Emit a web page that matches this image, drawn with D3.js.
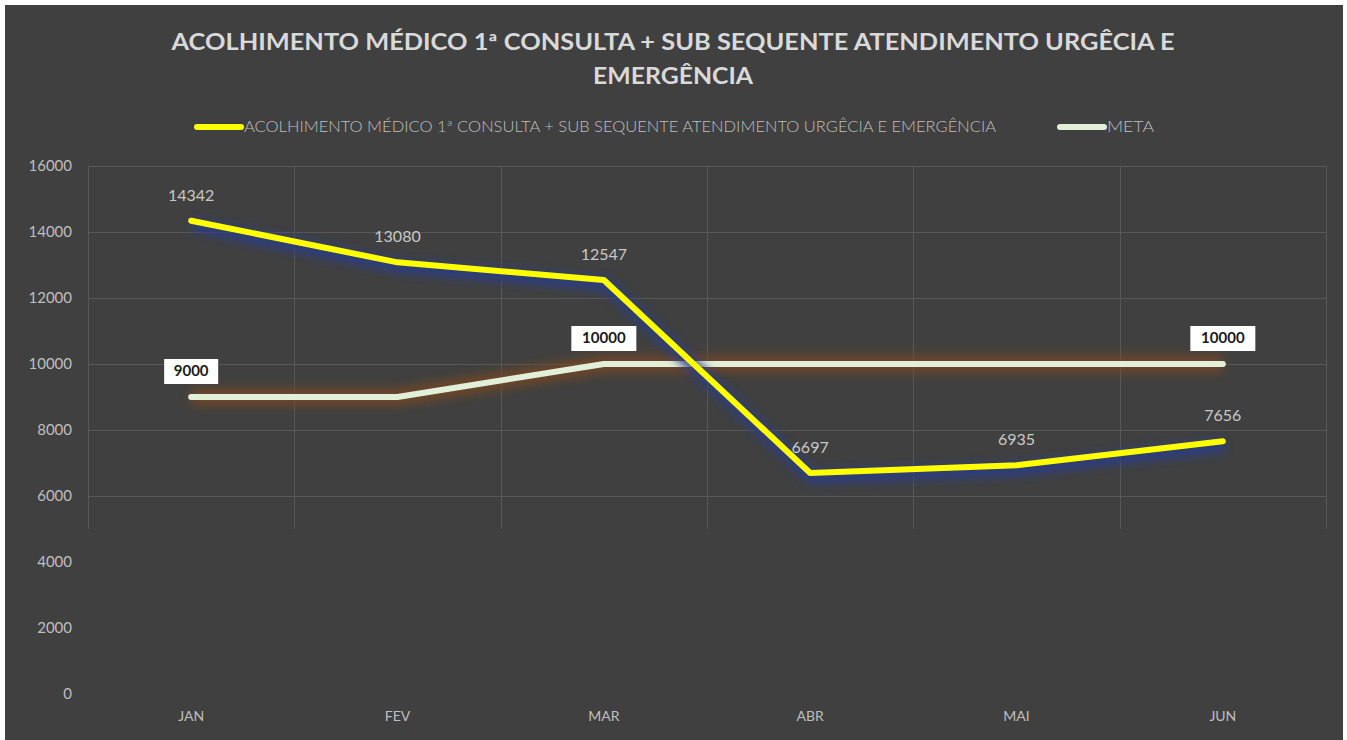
<!DOCTYPE html>
<html>
<head>
<meta charset="utf-8">
<script src="https://cdn.jsdelivr.net/npm/d3@7"></script>
<style>
  html, body { margin: 0; padding: 0; background: #ffffff; }
  svg { display: block; }
</style>
</head>
<body>
<svg id="chart" width="1347" height="740"></svg>
<script>
// chart data
const months = ['JAN', 'FEV', 'MAR', 'ABR', 'MAI', 'JUN'];
const atendimentos = [14342, 13080, 12547, 6697, 6935, 7656];
const meta = [9000, 9000, 10000, 10000, 10000, 10000];
const metaLabelMonths = ['JAN', 'MAR', 'JUN'];
const yTicks = [0, 2000, 4000, 6000, 8000, 10000, 12000, 14000, 16000];
const gridTicks = [6000, 8000, 10000, 12000, 14000, 16000];

const titleLines = [
  'ACOLHIMENTO MÉDICO 1ª CONSULTA + SUB SEQUENTE ATENDIMENTO URGÊCIA E',
  'EMERGÊNCIA'
];
const seriesNames = [
  'ACOLHIMENTO MÉDICO 1ª CONSULTA + SUB SEQUENTE ATENDIMENTO URGÊCIA E EMERGÊNCIA',
  'META'
];

const svg = d3.select('#chart');
const font = 'Lato, "Open Sans", sans-serif';

// background panel
svg.append('rect')
  .attr('x', 5).attr('y', 5)
  .attr('width', 1338).attr('height', 735)
  .attr('fill', '#404040');

const defs = svg.append('defs');

const blueGlow = defs.append('filter').attr('id', 'blueGlow')
  .attr('x', '-10%').attr('y', '-30%').attr('width', '120%').attr('height', '160%');
blueGlow.append('feGaussianBlur').attr('stdDeviation', 4);

const warmGlow = defs.append('filter').attr('id', 'warmGlow')
  .attr('x', '-10%').attr('y', '-50%').attr('width', '120%').attr('height', '200%');
warmGlow.append('feGaussianBlur').attr('stdDeviation', 5);

// scales
const x = d3.scaleBand().domain(months).range([88, 1326]);
const cx = (m) => x(m) + x.bandwidth() / 2;
const y = d3.scaleLinear().domain([0, 16000]).range([694, 166]);

// gridlines
const grid = svg.append('g').attr('stroke', '#585858').attr('stroke-width', 1);
grid.selectAll('line.h')
  .data(gridTicks)
  .enter()
  .append('line')
  .attr('x1', 88).attr('x2', 1326)
  .attr('y1', (d) => y(d) + 0.5).attr('y2', (d) => y(d) + 0.5);
grid.selectAll('line.v')
  .data(months.concat(['end']))
  .enter()
  .append('line')
  .attr('x1', (d, i) => Math.round(88 + i * x.bandwidth()) + 0.5)
  .attr('x2', (d, i) => Math.round(88 + i * x.bandwidth()) + 0.5)
  .attr('y1', y(16000)).attr('y2', y(5000));

// y axis labels
const yAxis = d3.axisLeft(y).tickValues(yTicks).tickFormat(d3.format('d')).tickSize(0).tickPadding(0);
const yg = svg.append('g').attr('transform', 'translate(72,0)').call(yAxis);
yg.select('.domain').remove();
yg.selectAll('text')
  .attr('fill', '#bfbfbf')
  .style('font-family', font)
  .style('font-size', '15px');

// x axis labels
const xAxis = d3.axisBottom(x).tickSize(0).tickPadding(0);
const xg = svg.append('g').attr('transform', 'translate(0,711)').call(xAxis);
xg.select('.domain').remove();
xg.selectAll('text')
  .attr('fill', '#bfbfbf')
  .style('font-family', font)
  .style('font-size', '14px');

// title
svg.append('g')
  .selectAll('text')
  .data(titleLines)
  .enter()
  .append('text')
  .attr('x', 673)
  .attr('y', (d, i) => 50 + i * 34)
  .attr('text-anchor', 'middle')
  .attr('fill', '#d9d9d9')
  .style('font-family', font)
  .style('font-weight', 'bold')
  .style('font-size', '22px')
  .attr('textLength', (d, i) => (i === 0 ? 1003 : 160))
  .attr('lengthAdjust', 'spacingAndGlyphs')
  .text((d) => d);

// legend
const legend = [
  { name: seriesNames[0], color: '#ffff00', x0: 197, width: 752 },
  { name: seriesNames[1], color: '#e2f0d9', x0: 1060, width: 47 }
];
const lg = svg.append('g').selectAll('g').data(legend).enter().append('g');
lg.append('line')
  .attr('x1', (d) => d.x0).attr('x2', (d) => d.x0 + 44)
  .attr('y1', 127).attr('y2', 127)
  .attr('stroke', (d) => d.color)
  .attr('stroke-width', 6)
  .attr('stroke-linecap', 'round');
lg.append('text')
  .attr('x', (d) => d.x0 + 47)
  .attr('y', 132)
  .attr('fill', '#bfbfbf')
  .style('font-family', font)
  .style('font-weight', '300')
  .style('font-size', '15px')
  .attr('textLength', (d) => d.width)
  .attr('lengthAdjust', 'spacingAndGlyphs')
  .text((d) => d.name);

// lines
const line = d3.line()
  .x((d, i) => cx(months[i]))
  .y((d) => y(d));

// meta glow + line
svg.append('path')
  .attr('d', line(meta))
  .attr('fill', 'none')
  .attr('stroke', '#7a4520')
  .attr('stroke-opacity', 0.75)
  .attr('stroke-width', 18)
  .attr('stroke-linejoin', 'round')
  .attr('filter', 'url(#warmGlow)');
svg.append('path')
  .attr('d', line(meta))
  .attr('fill', 'none')
  .attr('stroke', '#e2f0d9')
  .attr('stroke-width', 6)
  .attr('stroke-linecap', 'round')
  .attr('stroke-linejoin', 'round');

// atendimentos glow + line
svg.append('path')
  .attr('d', line(atendimentos))
  .attr('transform', 'translate(2,4)')
  .attr('fill', 'none')
  .attr('stroke', '#283c86')
  .attr('stroke-opacity', 0.85)
  .attr('stroke-width', 14)
  .attr('stroke-linejoin', 'round')
  .attr('filter', 'url(#blueGlow)');
svg.append('path')
  .attr('d', line(atendimentos))
  .attr('fill', 'none')
  .attr('stroke', '#ffff00')
  .attr('stroke-width', 6)
  .attr('stroke-linecap', 'round')
  .attr('stroke-linejoin', 'round');

// data labels (atendimentos)
svg.append('g')
  .selectAll('text')
  .data(atendimentos)
  .enter()
  .append('text')
  .attr('x', (d, i) => cx(months[i]))
  .attr('y', (d) => y(d) - 20)
  .attr('text-anchor', 'middle')
  .attr('fill', '#c8c8c8')
  .style('font-family', font)
  .style('font-size', '16px')
  .text((d) => d);

// data labels (meta) in white boxes
const metaLabels = meta
  .map((v, i) => ({ month: months[i], value: v }))
  .filter((d) => metaLabelMonths.includes(d.month));
const ml = svg.append('g').selectAll('g').data(metaLabels).enter().append('g')
  .attr('transform', (d) => `translate(${cx(d.month)},${y(d.value) - 26})`);
ml.append('rect')
  .attr('x', (d) => -(String(d.value).length * 5.5 + 5))
  .attr('y', -12)
  .attr('width', (d) => String(d.value).length * 11 + 10)
  .attr('height', 25)
  .attr('fill', '#ffffff');
ml.append('text')
  .attr('text-anchor', 'middle')
  .attr('dy', '0.35em')
  .attr('fill', '#1a1a1a')
  .style('font-family', font)
  .style('font-weight', 'bold')
  .style('font-size', '15px')
  .text((d) => d.value);
</script>
</body>
</html>
